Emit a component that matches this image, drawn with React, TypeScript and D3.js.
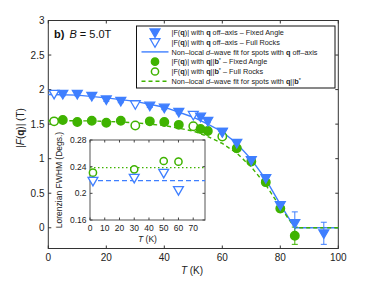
import * as d3 from 'd3'

// main plot data (T in K, |F(q)| in T)
const blueFixedT = [5, 10, 15, 20, 25, 35, 40, 45, 52.5, 55, 60, 65, 70, 75, 80, 85, 95]
const blueFixedF = [1.94, 1.94, 1.91, 1.86, 1.84, 1.77, 1.74, 1.68, 1.61, 1.55, 1.39, 1.23, 0.98, 0.72, 0.33, 0.07, -0.08]
const blueFixedErr = [0.03, 0.03, 0.03, 0.03, 0.03, 0.03, 0.03, 0.03, 0.03, 0.03, 0.04, 0.04, 0.04, 0.05, 0.05, 0.16, 0.16]

const blueRockT = [2, 30, 50, 60]
const blueRockF = [1.94, 1.79, 1.635, 1.39]

const greenFixedT = [5, 10, 15, 20, 25, 35, 40, 45, 52.5, 55, 65, 70, 75, 80, 85]
const greenFixedF = [1.56, 1.53, 1.55, 1.52, 1.55, 1.54, 1.53, 1.49, 1.43, 1.4, 1.15, 0.96, 0.66, 0.28, -0.115]
const greenFixedErr = [0.03, 0.03, 0.03, 0.03, 0.03, 0.03, 0.03, 0.03, 0.03, 0.03, 0.04, 0.04, 0.05, 0.05, 0.125]

const greenRockT = [2, 30, 50, 60]
const greenRockF = [1.54, 1.48, 1.47, 1.32]

// fit curves
const fitT = [0, 10, 20, 30, 40, 50, 55, 60, 65, 70, 75, 80, 85, 100]
const blueFitF = [1.93, 1.92, 1.88, 1.83, 1.745, 1.6, 1.5, 1.39, 1.22, 0.99, 0.7, 0.34, 0, 0]
const greenFitF = [1.55, 1.55, 1.54, 1.52, 1.48, 1.4, 1.32, 1.22, 1.08, 0.88, 0.62, 0.3, 0, 0]

// inset: Lorenzian FWHM
const insetT = [2, 30, 50, 60]
const insetGreen = [0.231, 0.236, 0.2485, 0.2475]
const insetGreenErr = [0.004, 0.005, 0.005, 0.006]
const insetBlue = [0.219, 0.2235, 0.231, 0.205]
const insetBlueErr = [0.004, 0.004, 0.004, 0.003]
const insetGreenMean = 0.2385
const insetBlueMean = 0.219

const xTicks = [0, 20, 40, 60, 80, 100]
const yTicks = [0, 0.5, 1, 1.5, 2, 2.5, 3]
const insetXTicks = [0, 10, 20, 30, 40, 50, 60, 70]
const insetYTicks = [0.16, 0.2, 0.24, 0.28]

const BLUE = '#3f7fff'
const GREEN = '#3fb300'
const FONT = 'Liberation Sans, Arial, sans-serif'

const x = d3.scaleLinear().domain([0, 100]).range([48.3, 338.3])
const y = d3.scaleLinear().domain([-0.3, 3]).range([248.5, 20.5])
const ix = d3.scaleLinear().domain([0, 78]).range([90, 205])
const iy = d3.scaleLinear().domain([0.16, 0.28]).range([220, 140])

const triDown = d3.symbol(d3.symbolTriangle, 42)()!
const fitLine = (vals: number[]) =>
  d3.line<number>().x((_, i) => x(fitT[i])).y((v) => y(v))(vals)!

function TriDown({ cx, cy, filled }: { cx: number; cy: number; filled: boolean }) {
  return (
    <path
      d={triDown}
      transform={`translate(${cx},${cy - 0.5}) rotate(180)`}
      fill={filled ? BLUE : 'white'}
      stroke={BLUE}
      strokeWidth={1.3}
    />
  )
}

function Circ({ cx, cy, filled, r = 4.2 }: { cx: number; cy: number; filled: boolean; r?: number }) {
  return <circle cx={cx} cy={cy} r={r} fill={filled ? GREEN : 'white'} stroke={GREEN} strokeWidth={1.5} />
}

function ErrBar({ cx, y0, y1, color, cap = 3 }: { cx: number; y0: number; y1: number; color: string; cap?: number }) {
  return (
    <g stroke={color} strokeWidth={1}>
      <line x1={cx} x2={cx} y1={y0} y2={y1} />
      <line x1={cx - cap} x2={cx + cap} y1={y0} y2={y0} />
      <line x1={cx - cap} x2={cx + cap} y1={y1} y2={y1} />
    </g>
  )
}

const legendRows = [
  { kind: 'triF', text: [['|F('], ['q', 'b'], [')| with '], ['q', 'b'], [' off–axis – Fixed Angle']] },
  { kind: 'triO', text: [['|F('], ['q', 'b'], [')| with '], ['q', 'b'], [' off–axis – Full Rocks']] },
  { kind: 'lineB', text: [['Non–local '], ['d', 'i'], ['–wave fit for spots with '], ['q', 'b'], [' off–axis']] },
  { kind: 'circF', text: [['|F('], ['q', 'b'], [')| with '], ['q', 'b'], ['||'], ['b', 'b'], ['*'], [' – Fixed Angle']] },
  { kind: 'circO', text: [['|F('], ['q', 'b'], [')| with '], ['q', 'b'], ['||'], ['b', 'b'], ['*'], [' – Full Rocks']] },
  { kind: 'lineG', text: [['Non–local '], ['d', 'i'], ['–wave fit for spots with '], ['q', 'b'], ['||'], ['b', 'b'], ['*']] },
]

export default function App() {
  const [, y0] = y.range()
  return (
    <svg
      width={374}
      height={281}
      style={{ position: 'absolute', left: 0, top: 0, background: 'white' }}
      fontFamily={FONT}
    >
      {/* main axes box */}
      <rect x={x(0)} y={20.5} width={x(100) - x(0)} height={y(-0.3) - 20.5} fill="white" stroke="#333" strokeWidth={1} />
      {xTicks.map((t) => (
        <g key={`xt${t}`}>
          <line x1={x(t)} x2={x(t)} y1={y(-0.3)} y2={y(-0.3) - 3} stroke="#333" />
          <line x1={x(t)} x2={x(t)} y1={y0} y2={y0 + 3} stroke="#333" />
          <text x={x(t)} y={261} fontSize={10} textAnchor="middle" fill="#222">{t}</text>
        </g>
      ))}
      {yTicks.map((t) => (
        <g key={`yt${t}`}>
          <line x1={x(0)} x2={x(0) + 3} y1={y(t)} y2={y(t)} stroke="#333" />
          <line x1={x(100)} x2={x(100) - 3} y1={y(t)} y2={y(t)} stroke="#333" />
          <text x={44.5} y={y(t) + 3.5} fontSize={10} textAnchor="end" fill="#222">{t}</text>
        </g>
      ))}
      <text x={192} y={274} fontSize={10} textAnchor="middle" fill="#222">
        <tspan fontStyle="italic">T</tspan> (K)
      </text>
      <text transform="translate(24,128) rotate(-90)" fontSize={10} textAnchor="middle" fill="#222">
        |<tspan fontStyle="italic">F</tspan>(<tspan fontWeight="bold">q</tspan>)| (T)
      </text>
      <text x={54} y={38} fontSize={11} fill="#111">
        <tspan fontWeight="bold">b)</tspan>
        <tspan dx={5} fontStyle="italic">B</tspan> = 5.0T
      </text>

      {/* fits */}
      <path d={fitLine(blueFitF)} fill="none" stroke={BLUE} strokeWidth={1.4} />
      <path d={fitLine(greenFitF)} fill="none" stroke={GREEN} strokeWidth={1.4} strokeDasharray="4 3" />

      {/* error bars */}
      {blueFixedT.map((t, i) => (
        <ErrBar key={`be${i}`} cx={x(t)} y0={y(blueFixedF[i] + blueFixedErr[i])} y1={y(blueFixedF[i] - blueFixedErr[i])} color={BLUE} />
      ))}
      {greenFixedT.map((t, i) => (
        <ErrBar key={`ge${i}`} cx={x(t)} y0={y(greenFixedF[i] + greenFixedErr[i])} y1={y(greenFixedF[i] - greenFixedErr[i])} color={GREEN} />
      ))}

      {/* markers */}
      {greenRockT.map((t, i) => <Circ key={`gr${i}`} cx={x(t)} cy={y(greenRockF[i])} filled={false} />)}
      {greenFixedT.map((t, i) => <Circ key={`gf${i}`} cx={x(t)} cy={y(greenFixedF[i])} filled />)}
      {blueRockT.map((t, i) => <TriDown key={`br${i}`} cx={x(t)} cy={y(blueRockF[i])} filled={false} />)}
      {blueFixedT.map((t, i) => <TriDown key={`bf${i}`} cx={x(t)} cy={y(blueFixedF[i])} filled />)}

      {/* legend */}
      <rect x={136.5} y={26} width={198.5} height={62} fill="white" stroke="#111" strokeWidth={1} />
      {legendRows.map((row, i) => {
        const ry = 32.3 + i * 9.8
        return (
          <g key={`lg${i}`}>
            {row.kind === 'triF' && <TriDown cx={155} cy={ry} filled />}
            {row.kind === 'triO' && <TriDown cx={155} cy={ry} filled={false} />}
            {row.kind === 'circF' && <Circ cx={155} cy={ry} filled r={3.6} />}
            {row.kind === 'circO' && <Circ cx={155} cy={ry} filled={false} r={3.6} />}
            {row.kind === 'lineB' && <line x1={141.5} x2={168.5} y1={ry} y2={ry} stroke={BLUE} strokeWidth={1.4} />}
            {row.kind === 'lineG' && (
              <line x1={141.5} x2={168.5} y1={ry} y2={ry} stroke={GREEN} strokeWidth={1.4} strokeDasharray="4 3" />
            )}
            <text x={171.5} y={ry + 2.6} fontSize={7.3} fill="#222">
              {row.text.map((seg, j) => (
                <tspan
                  key={j}
                  fontWeight={seg[1] === 'b' ? 'bold' : undefined}
                  fontStyle={seg[1] === 'i' ? 'italic' : undefined}
                  baselineShift={seg[0] === '*' ? '30%' : undefined}
                  fontSize={seg[0] === '*' ? 5.5 : undefined}
                >
                  {seg[0]}
                </tspan>
              ))}
            </text>
          </g>
        )
      })}

      {/* inset */}
      <rect x={ix(0)} y={iy(0.28)} width={ix(78) - ix(0)} height={iy(0.16) - iy(0.28)} fill="white" stroke="#555" strokeWidth={1} />
      {insetXTicks.map((t) => (
        <g key={`ixt${t}`}>
          <line x1={ix(t)} x2={ix(t)} y1={iy(0.16)} y2={iy(0.16) - 2.5} stroke="#444" />
          <line x1={ix(t)} x2={ix(t)} y1={iy(0.28)} y2={iy(0.28) + 2.5} stroke="#444" />
          <text x={ix(t)} y={231} fontSize={8.5} textAnchor="middle" fill="#222">{t}</text>
        </g>
      ))}
      {insetYTicks.map((t) => (
        <g key={`iyt${t}`}>
          <line x1={ix(0)} x2={ix(0) + 2.5} y1={iy(t)} y2={iy(t)} stroke="#444" />
          <line x1={ix(78)} x2={ix(78) - 2.5} y1={iy(t)} y2={iy(t)} stroke="#444" />
          <text x={86.5} y={iy(t) + 3} fontSize={8.5} textAnchor="end" fill="#222">{t}</text>
        </g>
      ))}
      <text x={147.5} y={241.5} fontSize={8.5} textAnchor="middle" fill="#222">
        <tspan fontStyle="italic">T</tspan> (K)
      </text>
      <text transform="translate(62,180) rotate(-90)" fontSize={8.5} textAnchor="middle" fill="#222">
        Lorenzian FWHM (Degs.)
      </text>
      <line x1={ix(0)} x2={ix(78)} y1={iy(insetGreenMean)} y2={iy(insetGreenMean)} stroke={GREEN} strokeWidth={1.4} strokeDasharray="1.5 2.5" />
      <line x1={ix(0)} x2={ix(78)} y1={iy(insetBlueMean)} y2={iy(insetBlueMean)} stroke={BLUE} strokeWidth={1.4} strokeDasharray="5 3" />
      {insetT.map((t, i) => (
        <g key={`in${i}`}>
          <line x1={ix(t)} x2={ix(t)} y1={iy(insetGreen[i] + insetGreenErr[i])} y2={iy(insetGreen[i] - insetGreenErr[i])} stroke={GREEN} />
          <line x1={ix(t)} x2={ix(t)} y1={iy(insetBlue[i] + insetBlueErr[i])} y2={iy(insetBlue[i] - insetBlueErr[i])} stroke={BLUE} />
          <Circ cx={ix(t)} cy={iy(insetGreen[i])} filled={false} r={3.6} />
          <TriDown cx={ix(t)} cy={iy(insetBlue[i])} filled={false} />
        </g>
      ))}
    </svg>
  )
}
